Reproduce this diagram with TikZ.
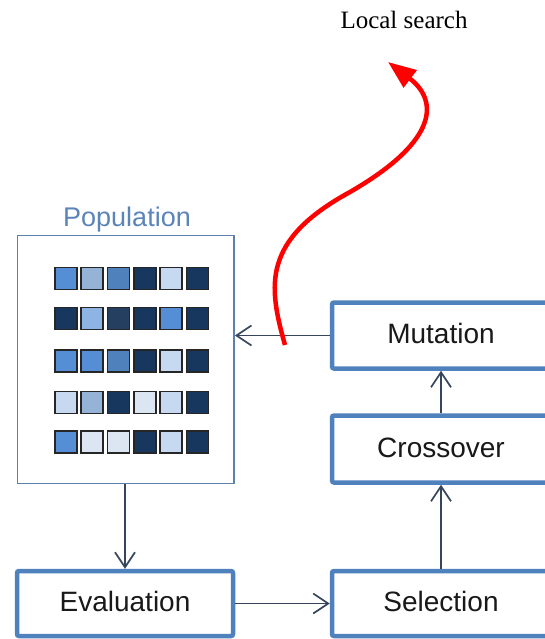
\documentclass[tikz,border=0pt]{standalone}
\usepackage{fontspec}
\setmainfont{Liberation Serif}
\setsansfont{Liberation Sans}
\usetikzlibrary{arrows.meta}
\definecolor{boxblue}{HTML}{4F81BD}
\definecolor{popblue}{HTML}{5F80AA}
\definecolor{poptext}{HTML}{5B84B8}
\definecolor{arrowc}{HTML}{34455C}
\definecolor{cA}{HTML}{558ED5}
\definecolor{cB}{HTML}{95B3D7}
\definecolor{cC}{HTML}{4F81BD}
\definecolor{cN}{HTML}{17375E}
\definecolor{cL}{HTML}{C6D9F1}
\definecolor{cD}{HTML}{243F60}
\definecolor{cK}{HTML}{8EB4E3}
\definecolor{cV}{HTML}{DCE6F2}
\begin{document}
\begin{tikzpicture}[x=1pt,y=-1pt,
  stepbox/.style={draw=boxblue,line width=4.5pt,rounded corners=2pt,fill=white,
    font=\sffamily\fontsize{28}{30}\selectfont,text=black!90,
    minimum width=218pt,minimum height=66pt,inner sep=0pt,
    text height=21pt,text depth=5pt},
  flow/.style={draw=arrowc,line width=1.7pt,
    -{Straight Barb[length=15pt,width=20pt,line width=1.7pt]}},
  cell/.style={draw=black!85,line width=1.6pt,minimum width=22pt,
    minimum height=22pt,inner sep=0pt}
]
\useasboundingbox (0,0) rectangle (545,639);
\fill[white] (0,0) rectangle (545,639);
\clip (0,0) rectangle (545,639);

% Population
\node[draw=popblue,line width=1.8pt,minimum width=216.5pt,minimum height=248pt,inner sep=0pt]
  (pop) at (125.75,359.5) {};
\node[anchor=base,text=poptext,font=\sffamily\fontsize{27}{29}\selectfont]
  (poplabel) at (127,226) {Population};

\foreach \c [count=\k] in {cA,cB,cC,cN,cL,cN}
  \node[cell,fill=\c] (ra\k) at ({65.8+26.3*(\k-1)},278.3) {};
\foreach \c [count=\k] in {cN,cK,cD,cN,cA,cN}
  \node[cell,fill=\c] (rb\k) at ({65.8+26.3*(\k-1)},318.3) {};
\foreach \c [count=\k] in {cA,cA,cC,cN,cL,cN}
  \node[cell,fill=\c] (rc\k) at ({65.8+26.3*(\k-1)},361) {};
\foreach \c [count=\k] in {cL,cB,cN,cV,cL,cN}
  \node[cell,fill=\c] (rd\k) at ({65.8+26.3*(\k-1)},402.5) {};
\foreach \c [count=\k] in {cA,cV,cV,cN,cL,cN}
  \node[cell,fill=\c] (re\k) at ({65.8+26.3*(\k-1)},442) {};

% Operator boxes
\node[stepbox] (mut) at (441,335.5) {Mutation};
\node[stepbox,minimum height=67pt] (cro) at (441,449) {Crossover};
\node[stepbox,minimum width=216pt,minimum height=65pt] (eva) at (125,603.5) {Evaluation};
\node[stepbox,minimum height=65pt] (sel) at (441,603.5) {Selection};

% Connectors
\draw[flow] (mut.west) -- (mut.west -| pop.east);
\draw[flow] (pop.south -| eva.north) -- (eva.north);
\draw[flow] (eva.east) -- (eva.east -| sel.west);
\draw[flow] (sel.north) -- (cro.south);
\draw[flow] (cro.north) -- (mut.south);

% Local search
\node[anchor=base,font=\rmfamily\fontsize{25}{27}\selectfont] (ls) at (404,28.5) {Local search};
\coordinate (lsa) at (285,345);
\coordinate (lsb) at (350,192);
\coordinate (lsc) at (388,62);
\draw[red,line width=4.5pt,-{Triangle[length=28pt,width=21pt]}]
  (lsa) .. controls (268,285) and (262,240) .. (lsb)
        .. controls (440,140) and (438,100) .. (lsc);
\end{tikzpicture}
\end{document}
